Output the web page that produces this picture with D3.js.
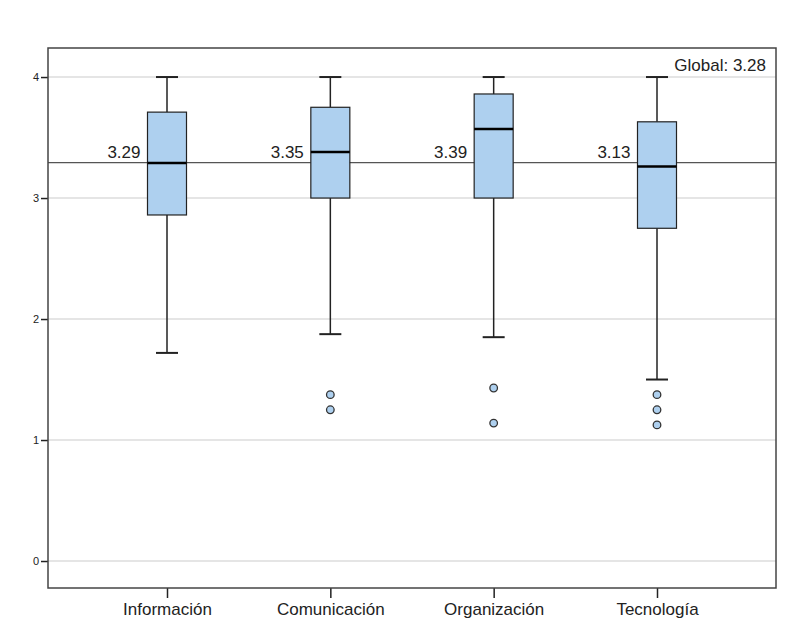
<!DOCTYPE html>
<html>
<head>
<meta charset="utf-8">
<script src="https://cdn.jsdelivr.net/npm/d3@7"></script>
<style>
  body { margin: 0; background: #fff; }
  text { font-family: "Liberation Sans", Arial, sans-serif; }
</style>
</head>
<body>
<script>
/* DATA */
var categories = ['Información', 'Comunicación', 'Organización', 'Tecnología'];
var q1        = [2.86, 3.00, 3.00, 2.75];
var medians   = [3.29, 3.38, 3.57, 3.26];
var q3        = [3.71, 3.75, 3.86, 3.63];
var whiskLow  = [1.72, 1.875, 1.85, 1.50];
var whiskHigh = [4.00, 4.00, 4.00, 4.00];
var means     = ['3.29', '3.35', '3.39', '3.13'];
var outliers  = [[], [1.375, 1.25], [1.43, 1.14], [1.375, 1.25, 1.125]];
var yTicks    = [0, 1, 2, 3, 4];
var globalMean = 3.28;

/* LAYOUT */
var w = 810, h = 640,
    plotL = 48, plotR = 776, plotT = 48, plotB = 588,
    boxW = 39, capW = 22;

var c = {
  frame: '#444',
  grid:  '#dcdcdc',
  box:   '#aed0ef',
  line:  '#222',
  text:  '#222'
};

var svg = d3.select('body').append('svg')
  .attr('width', w).attr('height', h);

var x = d3.scalePoint().domain(categories).range([167, 657]);
var y = d3.scaleLinear().domain([-0.223, 4.24]).range([plotB, plotT]);

/* GRID */
svg.selectAll('.grid').data(yTicks).enter()
  .append('line')
  .attr('x1', plotL).attr('x2', plotR)
  .attr('y1', function(d){ return y(d); })
  .attr('y2', function(d){ return y(d); })
  .attr('stroke', c.grid).attr('stroke-width', 1.5);

/* GLOBAL LINE */
svg.append('line')
  .attr('x1', plotL).attr('x2', plotR)
  .attr('y1', y(globalMean) - 1.5).attr('y2', y(globalMean) - 1.5)
  .attr('stroke', '#555').attr('stroke-width', 1.3);

svg.append('text')
  .attr('x', 766).attr('y', 71)
  .attr('text-anchor', 'end')
  .attr('font-size', 17)
  .attr('fill', c.text)
  .text('Global: ' + globalMean.toFixed(2));

/* BOXES */
var rows = categories.map(function(k, i){
  return { k: k, q1: q1[i], med: medians[i], q3: q3[i], lo: whiskLow[i], hi: whiskHigh[i], mean: means[i], out: outliers[i] };
});

var g = svg.selectAll('.cat').data(rows).enter()
  .append('g')
  .attr('transform', function(d){ return 'translate(' + x(d.k) + ',0)'; });

// whiskers
g.append('line')
  .attr('x1', 0).attr('x2', 0)
  .attr('y1', function(d){ return y(d.hi); })
  .attr('y2', function(d){ return y(d.q3); })
  .attr('stroke', c.line).attr('stroke-width', 1.5);
g.append('line')
  .attr('x1', 0).attr('x2', 0)
  .attr('y1', function(d){ return y(d.q1); })
  .attr('y2', function(d){ return y(d.lo); })
  .attr('stroke', c.line).attr('stroke-width', 1.5);
g.append('line')
  .attr('x1', -capW/2).attr('x2', capW/2)
  .attr('y1', function(d){ return y(d.hi); })
  .attr('y2', function(d){ return y(d.hi); })
  .attr('stroke', c.line).attr('stroke-width', 2);
g.append('line')
  .attr('x1', -capW/2).attr('x2', capW/2)
  .attr('y1', function(d){ return y(d.lo); })
  .attr('y2', function(d){ return y(d.lo); })
  .attr('stroke', c.line).attr('stroke-width', 2);

// box
g.append('rect')
  .attr('x', -boxW/2).attr('width', boxW)
  .attr('y', function(d){ return y(d.q3); })
  .attr('height', function(d){ return y(d.q1) - y(d.q3); })
  .attr('fill', c.box).attr('stroke', c.line).attr('stroke-width', 1.2);

// median
g.append('line')
  .attr('x1', -boxW/2).attr('x2', boxW/2)
  .attr('y1', function(d){ return y(d.med); })
  .attr('y2', function(d){ return y(d.med); })
  .attr('stroke', '#000').attr('stroke-width', 2.5);

// mean labels
g.append('text')
  .attr('x', -boxW/2 - 7).attr('y', 158)
  .attr('text-anchor', 'end')
  .attr('font-size', 17)
  .attr('fill', c.text)
  .text(function(d){ return d.mean; });

// outliers
g.selectAll('circle').data(function(d){ return d.out; }).enter()
  .append('circle')
  .attr('cx', 0)
  .attr('cy', function(d){ return y(d); })
  .attr('r', 3.8)
  .attr('fill', c.box).attr('stroke', '#333').attr('stroke-width', 1.3);

/* AXES */
var yAxis = d3.axisLeft(y).tickValues(yTicks).tickSize(7).tickPadding(2).tickFormat(d3.format('d'));
svg.append('g').attr('transform', 'translate(' + plotL + ',0)').call(yAxis)
  .call(function(a){
    a.select('.domain').remove();
    a.selectAll('line').attr('stroke', c.line).attr('stroke-width', 1.5);
    a.selectAll('text').attr('font-size', 11).attr('fill', c.text)
      .style('font-family', '"Liberation Sans", Arial, sans-serif');
  });

var xAxis = d3.axisBottom(x).tickSize(10).tickPadding(5);
svg.append('g').attr('transform', 'translate(0,' + plotB + ')').call(xAxis)
  .call(function(a){
    a.select('.domain').remove();
    a.selectAll('line').attr('stroke', c.line).attr('stroke-width', 1.5);
    a.selectAll('text').attr('font-size', 17).attr('fill', c.text)
      .style('font-family', '"Liberation Sans", Arial, sans-serif');
  });

/* FRAME */
svg.append('rect')
  .attr('x', plotL).attr('y', plotT)
  .attr('width', plotR - plotL).attr('height', plotB - plotT)
  .attr('fill', 'none').attr('stroke', c.frame).attr('stroke-width', 1.5);
</script>
</body>
</html>
